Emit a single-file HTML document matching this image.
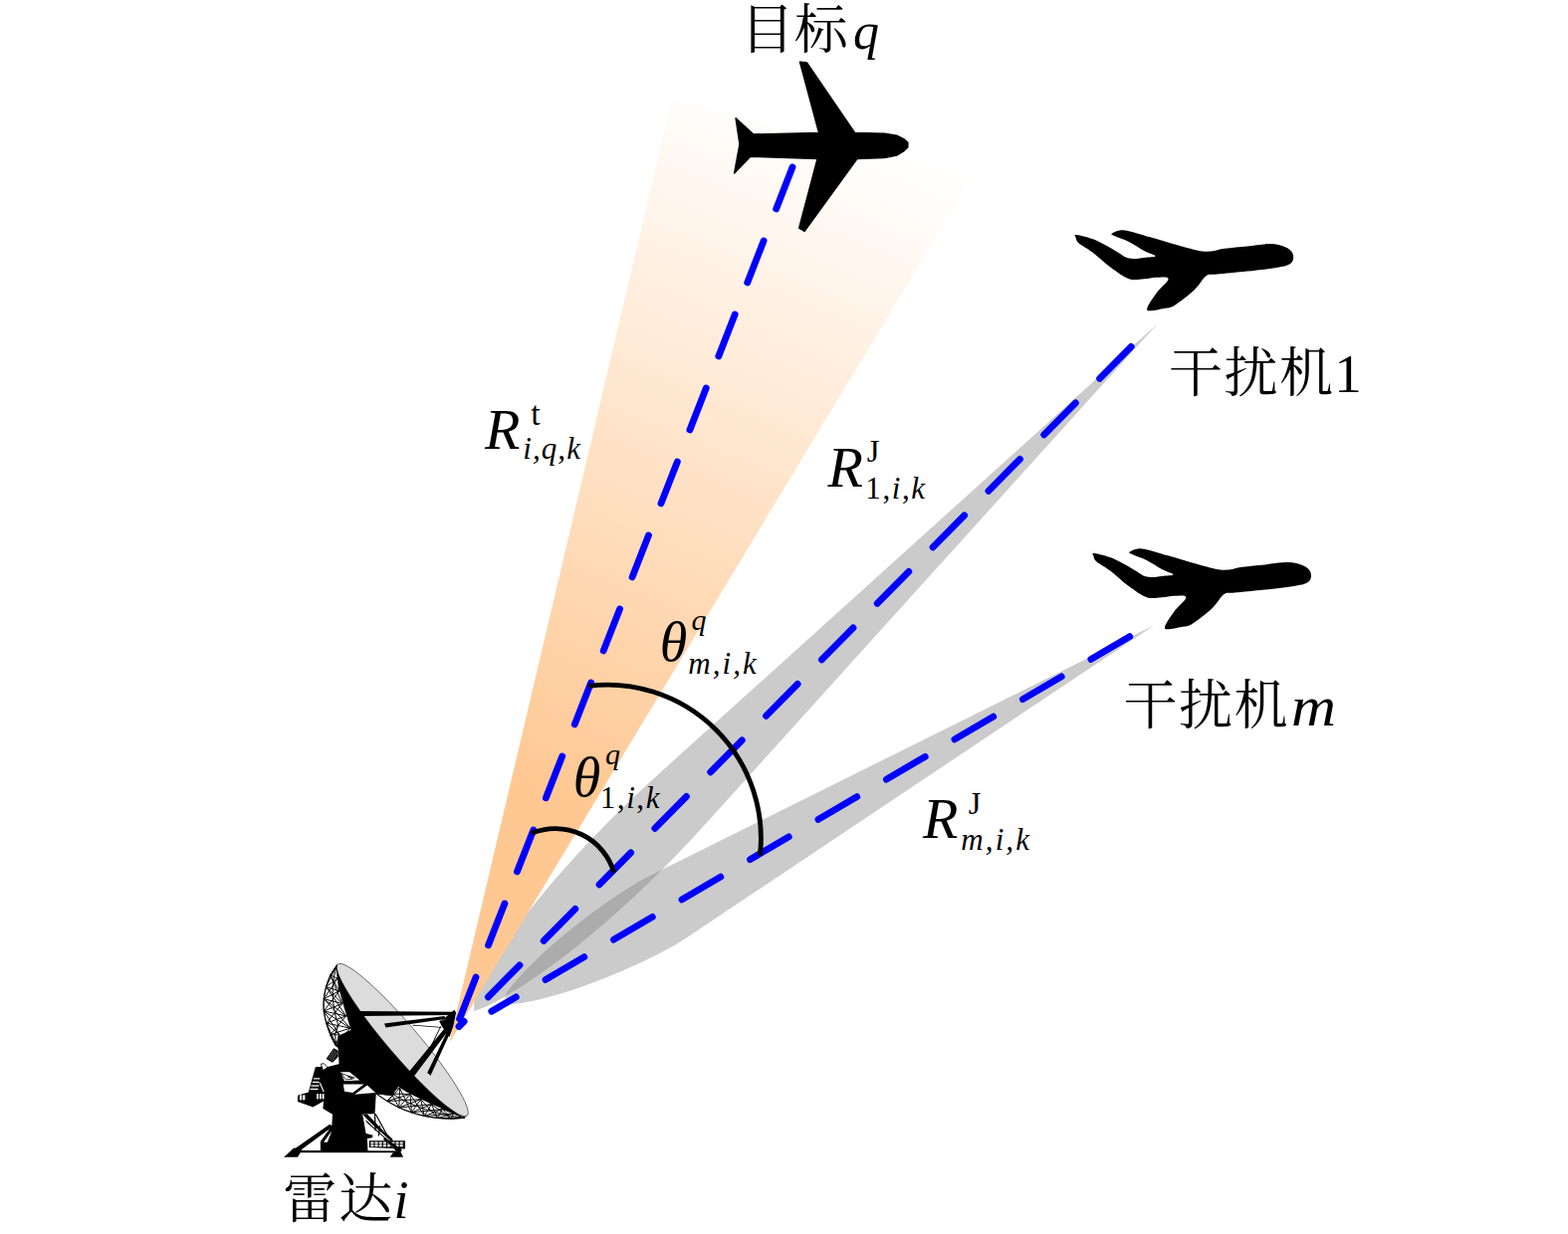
<!DOCTYPE html>
<html lang="zh"><head><meta charset="utf-8"><title>雷达干扰示意图</title>
<style>
html,body{margin:0;padding:0;background:#fff;}
body{width:1575px;height:1240px;overflow:hidden;font-family:"Liberation Serif","Noto Serif CJK SC",serif;}
svg{display:block;}
</style></head><body>
<svg width="1575" height="1240" viewBox="0 0 1575 1240">
<rect width="1575" height="1240" fill="#fff"/>
<defs>
<linearGradient id="og" gradientUnits="userSpaceOnUse" x1="450.5" y1="1048" x2="822" y2="141">
<stop offset="0" stop-color="#ffc791"/>
<stop offset="0.28" stop-color="#ffc893"/>
<stop offset="1" stop-color="#fffefd"/>
</linearGradient>
</defs>
<clipPath id="c1"><rect x="476.2" y="0" width="1100" height="1240"/></clipPath>
<clipPath id="cm"><rect x="508.2" y="0" width="1100" height="1240"/></clipPath>
<path d="M1163.0,325.0 L661.4,778.0 C533.5,893.4 474.0,991.5 471.1,1016.9 C496.5,1014.0 594.6,954.5 710.0,826.6 Z" fill="#838383" fill-opacity="0.415" clip-path="url(#c1)"/>
<path d="M1159.4,628.2 L652.7,880.1 C615.7,898.6 526.6,964.1 500.8,1009.9 C553.4,1010.4 654.6,965.7 689.0,942.7 Z" fill="#838383" fill-opacity="0.415" clip-path="url(#cm)"/>
<path d="M451.3,1048 L674.8,100 L977,177 Z" fill="url(#og)"/>
<path d="M796.0,168.0 L460,1028" stroke="#0000fe" stroke-width="6.8" stroke-linecap="round" stroke-dasharray="45 34.44" fill="none"/>
<path d="M1136.2,348.3 L461,1031.5" stroke="#0000fe" stroke-width="6.8" stroke-linecap="round" stroke-dasharray="45 34.44" fill="none"/>
<path d="M1134.7,639.6 L493.8,1016.3" stroke="#0000fe" stroke-width="6.8" stroke-linecap="round" stroke-dasharray="45 34.44" fill="none"/>
<path d="M534,837.3 A61.4,61.4 0 0 1 616.7,876.8" stroke="#000" stroke-width="4.8" fill="none"/>
<path d="M591.3,689.3 A154.3,154.3 0 0 1 763.4,859.6" stroke="#000" stroke-width="4.8" fill="none"/>
<path d="M911.8,143.4 L907.6,139.6 L900.7,136.2 L888.5,134.2 L858.6,133.5 L810.4,63.0 L803.5,62.3 L822.6,133.5 L756.8,135.0 L739.1,118.9 L743.0,145.0 L737.6,174.1 L753.7,157.2 L821.1,159.5 L802.7,229.2 L808.1,232.3 L860.9,159.5 L888.5,158.4 L900.7,156.0 L907.6,151.9 L911.8,148.0 Z" fill="#000" stroke="#000" stroke-width="1.5" stroke-linejoin="round"/>
<path d="M1081.4,236.0 C1084.7,236.4 1094.0,238.6 1100.5,241.3 C1107.0,244.0 1114.7,248.9 1120.3,252.0 C1125.9,255.1 1129.2,258.5 1134.0,259.6 C1138.8,260.8 1144.8,259.3 1149.2,258.9 C1153.7,258.5 1160.7,258.4 1160.7,257.3 C1160.7,256.2 1153.7,254.4 1149.2,252.0 C1144.8,249.6 1139.1,245.4 1134.0,242.9 C1128.9,240.4 1121.6,238.2 1118.8,236.8 C1116.0,235.4 1115.4,235.4 1117.2,234.5 C1119.0,233.6 1123.1,230.8 1129.4,231.4 C1135.8,232.0 1146.2,235.8 1155.3,238.3 C1164.4,240.9 1175.1,244.3 1184.3,246.7 C1193.5,249.1 1202.6,252.3 1210.2,252.8 C1217.8,253.3 1222.9,250.6 1230.0,249.7 C1237.1,248.8 1245.3,248.2 1252.9,247.4 C1260.5,246.6 1269.4,245.0 1275.7,245.1 C1282.0,245.2 1287.2,246.5 1291.0,248.2 C1294.8,249.8 1297.6,252.3 1298.6,255.0 C1299.6,257.7 1299.5,261.9 1297.0,264.2 C1294.5,266.5 1290.6,267.4 1283.3,268.8 C1276.0,270.2 1263.1,271.5 1252.9,272.6 C1242.8,273.7 1229.3,274.9 1222.4,275.6 C1215.5,276.4 1215.5,274.4 1211.7,277.1 C1207.9,279.8 1204.8,286.6 1199.5,291.6 C1194.2,296.6 1184.8,303.8 1179.7,306.9 C1174.6,309.9 1173.6,309.1 1169.0,309.9 C1164.4,310.6 1153.6,313.9 1152.3,311.4 C1151.0,308.9 1157.9,299.9 1161.4,294.7 C1165.0,289.5 1173.6,282.9 1173.6,280.2 C1173.6,277.5 1165.5,278.7 1161.4,278.7 C1157.3,278.7 1153.8,279.9 1149.2,280.2 C1144.6,280.4 1139.6,282.1 1134.0,280.2 C1128.4,278.3 1121.8,273.2 1115.7,268.8 C1109.6,264.4 1102.7,257.6 1097.4,253.5 C1092.1,249.4 1086.5,246.8 1083.7,244.4 C1080.9,242.0 1081.1,240.4 1080.7,239.0 C1080.3,237.6 1078.1,235.6 1081.4,236.0 Z" fill="#000"/>
<path d="M1081.4,236.0 C1084.7,236.4 1094.0,238.6 1100.5,241.3 C1107.0,244.0 1114.7,248.9 1120.3,252.0 C1125.9,255.1 1129.2,258.5 1134.0,259.6 C1138.8,260.8 1144.8,259.3 1149.2,258.9 C1153.7,258.5 1160.7,258.4 1160.7,257.3 C1160.7,256.2 1153.7,254.4 1149.2,252.0 C1144.8,249.6 1139.1,245.4 1134.0,242.9 C1128.9,240.4 1121.6,238.2 1118.8,236.8 C1116.0,235.4 1115.4,235.4 1117.2,234.5 C1119.0,233.6 1123.1,230.8 1129.4,231.4 C1135.8,232.0 1146.2,235.8 1155.3,238.3 C1164.4,240.9 1175.1,244.3 1184.3,246.7 C1193.5,249.1 1202.6,252.3 1210.2,252.8 C1217.8,253.3 1222.9,250.6 1230.0,249.7 C1237.1,248.8 1245.3,248.2 1252.9,247.4 C1260.5,246.6 1269.4,245.0 1275.7,245.1 C1282.0,245.2 1287.2,246.5 1291.0,248.2 C1294.8,249.8 1297.6,252.3 1298.6,255.0 C1299.6,257.7 1299.5,261.9 1297.0,264.2 C1294.5,266.5 1290.6,267.4 1283.3,268.8 C1276.0,270.2 1263.1,271.5 1252.9,272.6 C1242.8,273.7 1229.3,274.9 1222.4,275.6 C1215.5,276.4 1215.5,274.4 1211.7,277.1 C1207.9,279.8 1204.8,286.6 1199.5,291.6 C1194.2,296.6 1184.8,303.8 1179.7,306.9 C1174.6,309.9 1173.6,309.1 1169.0,309.9 C1164.4,310.6 1153.6,313.9 1152.3,311.4 C1151.0,308.9 1157.9,299.9 1161.4,294.7 C1165.0,289.5 1173.6,282.9 1173.6,280.2 C1173.6,277.5 1165.5,278.7 1161.4,278.7 C1157.3,278.7 1153.8,279.9 1149.2,280.2 C1144.6,280.4 1139.6,282.1 1134.0,280.2 C1128.4,278.3 1121.8,273.2 1115.7,268.8 C1109.6,264.4 1102.7,257.6 1097.4,253.5 C1092.1,249.4 1086.5,246.8 1083.7,244.4 C1080.9,242.0 1081.1,240.4 1080.7,239.0 C1080.3,237.6 1078.1,235.6 1081.4,236.0 Z" fill="#000" transform="translate(17.8 320)"/>
<g font-family="'Liberation Serif','Noto Serif CJK SC',serif" fill="#000">
<text><tspan x="743.7" y="49.4" font-size="54">目标</tspan><tspan x="856.9" y="48.9" font-size="52" font-style="italic">q</tspan></text>
<text><tspan x="1174" y="394.4" font-size="54" letter-spacing="1.5">干扰机</tspan><tspan x="1340.3" y="393.8" font-size="55">1</tspan></text>
<text><tspan x="1128.5" y="728.2" font-size="54" letter-spacing="1.5">干扰机</tspan><tspan x="1297" y="728.7" font-size="56" font-style="italic" textLength="45" lengthAdjust="spacingAndGlyphs">m</tspan></text>
<text><tspan x="284.2" y="1224.3" font-size="54" letter-spacing="2">雷达</tspan><tspan x="395.6" y="1223.7" font-size="54" font-style="italic">i</tspan></text>
<text><tspan x="487.1" y="451.1" font-size="58" font-style="italic">R</tspan><tspan x="533.2" y="427.0" font-size="34">t</tspan><tspan x="525.2" y="461.3" font-size="31" font-style="italic" letter-spacing="1.1">i,q,k</tspan></text>
<text><tspan x="831.6" y="489.1" font-size="58" font-style="italic">R</tspan><tspan x="870.8" y="464.4" font-size="32.5">J</tspan><tspan x="869.3" y="500.8" font-size="31" letter-spacing="1.6">1,<tspan font-style="italic">i</tspan>,<tspan font-style="italic">k</tspan></tspan></text>
<text><tspan x="927.1" y="842.2" font-size="58" font-style="italic">R</tspan><tspan x="972.8" y="818.0" font-size="32.5">J</tspan><tspan x="965.3" y="853.8" font-size="31" font-style="italic" letter-spacing="2.1">m,i,k</tspan></text>
<text><tspan x="662.7" y="664.4" font-size="56" font-style="italic">θ</tspan><tspan x="694.4" y="632.7" font-size="30" font-style="italic">q</tspan><tspan x="691.2" y="676.7" font-size="31" font-style="italic" letter-spacing="2.1">m,i,k</tspan></text>
<text><tspan x="575.8" y="800.4" font-size="56" font-style="italic">θ</tspan><tspan x="607.9" y="767.6" font-size="30" font-style="italic">q</tspan><tspan x="602.7" y="811.6" font-size="31" letter-spacing="1.6">1,<tspan font-style="italic">i</tspan>,<tspan font-style="italic">k</tspan></tspan></text>
</g>
<g id="radar" stroke-linejoin="round">
<path d="M338.5,969.7L338.5,970.2M338.5,969.7L339.1,983.1M338.5,970.2L331.8,980.0M338.5,969.7L331.8,980.0M338.5,970.0L335.4,981.6M338.5,969.7L340.8,995.9M338.5,970.2L327.5,991.6M331.8,980.0L339.1,983.1M331.8,980.0L340.8,995.9M339.1,983.1L327.5,991.6M331.8,980.0L327.5,991.6M335.4,981.6L334.2,993.8M331.8,980.0L343.8,1008.5M339.1,983.1L325.3,1003.7M327.5,991.6L340.8,995.9M327.5,991.6L343.8,1008.5M340.8,995.9L325.3,1003.7M327.5,991.6L325.3,1003.7M334.2,993.8L334.5,1006.1M327.5,991.6L347.6,1020.9M340.8,995.9L325.2,1016.0M325.3,1003.7L343.8,1008.5M325.3,1003.7L347.6,1020.9M343.8,1008.5L325.2,1016.0M325.3,1003.7L325.2,1016.0M334.5,1006.1L336.4,1018.4M325.3,1003.7L351.8,1033.1M343.8,1008.5L327.8,1028.1M325.2,1016.0L347.6,1020.9M325.2,1016.0L351.8,1033.1M347.6,1020.9L327.8,1028.1M325.2,1016.0L327.8,1028.1M336.4,1018.4L339.8,1030.6M325.2,1016.0L341.1,1039.9M347.6,1020.9L331.8,1039.7M327.8,1028.1L351.8,1033.1M327.8,1028.1L341.1,1039.9M351.8,1033.1L331.8,1039.7M327.8,1028.1L331.8,1039.7M339.8,1030.6L336.5,1039.8M327.8,1028.1L338.9,1051.9M351.8,1033.1L337.2,1050.8M331.8,1039.7L341.1,1039.9M331.8,1039.7L338.9,1051.9M341.1,1039.9L337.2,1050.8M331.8,1039.7L337.2,1050.8M336.5,1039.8L338.0,1051.3M337.2,1050.8L338.9,1051.9" stroke="#000" stroke-width="0.95" fill="none"/>
<path d="M338.5,969.7 C337.4,971.4 333.7,976.3 331.8,980.0 C329.9,983.7 328.5,988.0 327.4,992.0 C326.3,996.0 325.6,1000.0 325.2,1004.0 C324.8,1008.0 324.7,1011.8 325.2,1016.0 C325.7,1020.2 326.8,1024.8 328.0,1029.0 C329.2,1033.2 330.8,1037.4 332.3,1041.0 C333.8,1044.6 336.4,1049.2 337.2,1050.8" stroke="#000" stroke-width="0.9" fill="none"/>
<path d="M377.8,1098.9L394.3,1100.8M377.8,1098.9L401.6,1093.5M394.3,1100.8L389.0,1106.5M377.8,1098.9L389.0,1106.5M386.1,1099.8L395.3,1100.0M377.8,1098.9L412.0,1099.4M394.3,1100.8L400.8,1113.0M389.0,1106.5L401.6,1093.5M389.0,1106.5L412.0,1099.4M401.6,1093.5L400.8,1113.0M389.0,1106.5L400.8,1113.0M395.3,1100.0L406.4,1106.2M389.0,1106.5L422.6,1104.7M401.6,1093.5L413.4,1117.9M400.8,1113.0L412.0,1099.4M400.8,1113.0L422.6,1104.7M412.0,1099.4L413.4,1117.9M400.8,1113.0L413.4,1117.9M406.4,1106.2L418.0,1111.3M400.8,1113.0L433.4,1109.7M412.0,1099.4L426.4,1121.5M413.4,1117.9L422.6,1104.7M413.4,1117.9L433.4,1109.7M422.6,1104.7L426.4,1121.5M413.4,1117.9L426.4,1121.5M418.0,1111.3L429.9,1115.6M413.4,1117.9L444.4,1114.5M422.6,1104.7L439.7,1123.5M426.4,1121.5L433.4,1109.7M426.4,1121.5L444.4,1114.5M433.4,1109.7L439.7,1123.5M426.4,1121.5L439.7,1123.5M429.9,1115.6L442.1,1119.0M426.4,1121.5L455.5,1118.9M433.4,1109.7L453.2,1124.1M439.7,1123.5L444.4,1114.5M439.7,1123.5L455.5,1118.9M444.4,1114.5L453.2,1124.1M439.7,1123.5L453.2,1124.1M442.1,1119.0L454.3,1121.5M439.7,1123.5L466.7,1122.9M444.4,1114.5L466.7,1123.4M453.2,1124.1L455.5,1118.9M453.2,1124.1L466.7,1122.9M455.5,1118.9L466.7,1123.4M453.2,1124.1L466.7,1123.4M454.3,1121.5L466.7,1123.2M466.7,1123.4L466.7,1122.9" stroke="#000" stroke-width="0.95" fill="none"/>
<path d="M377.8,1098.9 C379.5,1100.1 384.1,1103.6 387.9,1105.9 C391.7,1108.2 396.4,1110.9 400.6,1112.9 C404.8,1114.9 409.1,1116.5 413.3,1117.9 C417.5,1119.3 421.8,1120.5 426.0,1121.4 C430.2,1122.3 434.5,1122.9 438.7,1123.4 C442.9,1123.9 446.7,1124.2 451.4,1124.2 C456.1,1124.2 464.1,1123.5 466.7,1123.4" stroke="#000" stroke-width="0.9" fill="none"/>
<path d="M339.2,968.9 L338.5,976.8 L339.9,990.9 L343.8,1006.2 L352.5,1035.0 L339.4,1041.0 L338.9,1053.0 L339.7,1053.8 L341.0,1076.7 L351.1,1081.7 L362.5,1086.8 L377.8,1098.3 L394.3,1100.8 L400.0,1091.9 L408.3,1097.2 L419.7,1103.1 L432.4,1109.0 L445.1,1114.5 L457.8,1119.6 L468.6,1122.4 L466,1117 L342,972 Z" fill="#000"/>
<ellipse cx="404.3" cy="1045.0" rx="100.0" ry="15.5" transform="rotate(49.54 404.3 1045.0)" fill="#dcdcdc" stroke="#222" stroke-width="0.6"/>
<path d="M359.0,1016.0 L456.4,1016.8 L456.4,1019.9 L362.3,1021.0 Z" fill="#000"/>
<path d="M386.0,1028.5 L446.6,1021.0 L447.4,1024.0 L387.5,1032.5 Z" fill="#000"/>
<path d="M414.5,1029.7 L443.4,1032.1 L443.4,1032.7 L414.5,1030.6 Z" fill="#000"/>
<path d="M409.6,1078.6 L448.3,1031.2 L451.5,1033.9 L415.1,1082.4 Z" fill="#000"/>
<path d="M429.2,1078.0 L449.9,1035.0 L452.8,1036.4 L432.5,1080.7 Z" fill="#000"/>
<path d="M432.8,1050.8 L442.3,1031.2 L443.0,1031.5 L433.7,1051.2 Z" fill="#000"/>
<path d="M456.4,1014.7 L458.1,1017.6 L455.3,1031.2 L451.5,1042.1 L448.3,1037.7 L443.9,1031.2 L441.2,1026.3 L447.2,1022.5 L451.5,1018.7 Z" fill="#000"/>
<path d="M443.0,1026.0 L448.8,1023.0 L445.0,1025.5 Z" fill="#fff"/>
<path d="M341.0,1069.0 L368.9,1088.1 L377.8,1098.3 L376.5,1119.2 L364.1,1119.6 L367.6,1138.9 L374.6,1140.8 L374.0,1143.3 L368.9,1144.0 L369.5,1157.3 L321.9,1157.3 L321.9,1147.1 L333.3,1131.3 L334.0,1119.8 L324.4,1114.1 L325.7,1098.3 L327.0,1088.1 L323.8,1075.4 L328.3,1072.2 Z" fill="#000"/>
<path d="M342.2,1077.3 L351.1,1077.3 L361.3,1085.6 L346.0,1086.2 Z" fill="#fff"/>
<path d="M344.8,1089.6 L365.7,1089.6 L354.3,1098.0 L346.0,1096.7 Z" fill="#fff"/>
<path d="M368.9,1090.6 L377.1,1098.0 L356.2,1099.8 Z" fill="#fff"/>
<path d="M342.9,1078.6 L347.3,1084.9 L354.3,1084.3 L349.2,1081.7 L356.2,1083.3 Z" fill="none" stroke="#000" stroke-width="0.8"/>
<path d="M327.6,1064.0 L335.2,1053.2 L339.7,1055.7 L339.7,1062.1 L334.0,1067.8 Z" fill="#000"/>
<path d="M329.8,1063.7 L335.9,1055.1 Z M331.4,1065.0 L337.4,1056.3 Z M333.1,1066.3 L338.7,1057.9 Z" stroke="#888" stroke-width="0.5" fill="none"/>
<path d="M322.5,1069.0 L325.7,1068.8 L328.9,1072.6 L323.8,1076.0 Z" fill="#fff" stroke="#000" stroke-width="0.8"/>
<path d="M316.8,1072.2 L323.8,1071.8 L328.3,1088.1 L326.0,1098.0 L326.0,1105.9 L314.3,1112.5 L299.0,1107.1 L299.0,1100.8 L309.8,1097.6 Z" fill="#000"/>
<path d="M314.9,1083.3 L321.3,1083.3 L321.3,1084.5 L314.9,1084.5 Z" fill="#fff"/>
<path d="M313.7,1086.8 L320.6,1086.8 L320.6,1088.1 L313.7,1088.1 Z" fill="#fff"/>
<path d="M312.4,1090.4 L320.4,1090.4 L320.4,1091.7 L312.4,1091.7 Z" fill="#fff"/>
<path d="M311.5,1093.8 L319.6,1093.8 L319.6,1095.1 L311.5,1095.1 Z" fill="#fff"/>
<path d="M321.3,1088.1 L325.1,1097.0 Z" stroke="#fff" stroke-width="0.8"/>
<path d="M301.0,1100.5 L303.2,1100.2 L303.2,1105.2 L301.0,1105.4 Z" fill="#fff"/>
<path d="M304.1,1100.5 L306.4,1100.2 L306.4,1105.2 L304.1,1105.4 Z" fill="#fff"/>
<path d="M318.1,1099.3 L319.9,1099.1 L319.9,1104.3 L318.1,1104.5 Z" fill="#fff"/>
<path d="M320.9,1099.3 L322.7,1099.1 L322.7,1104.3 L320.9,1104.5 Z" fill="#fff"/>
<path d="M323.7,1099.3 L325.5,1099.1 L325.5,1104.3 L323.7,1104.5 Z" fill="#fff"/>
<path d="M331.2,1129.7 L334.3,1132.0 L301.0,1156.4 L296.5,1153.9 Z" fill="#000"/>
<path d="M333.3,1136.3 L328.9,1147.8 L325.1,1147.8 Z" fill="#fff"/>
<path d="M285.1,1162.8 L295.2,1153.5 L303.5,1155.1 L299.0,1162.8 Z" fill="#000"/>
<path d="M299.0,1156.0 L401.9,1156.4 L405.1,1162.8 L391.7,1162.8 L394.9,1158.2 L299.0,1158.2 Z" fill="#000"/>
<path d="M364.1,1119.6 L368.9,1119.6 L403.8,1155.7 L398.1,1156.9 Z" fill="#000"/>
<path d="M367.6,1124.3 L398.1,1151.6 L395.6,1152.2 L367.6,1128.7 Z" fill="#fff"/>
<path d="M368.9,1127.5 L394.3,1150.3 Z M376.5,1119.2 L377.1,1136.3 Z M377.1,1119.2 L387.9,1138.9 Z M381.6,1131.3 L380.3,1141.4 Z M387.9,1138.9 L394.3,1145.2 Z M367.6,1126.2 L377.1,1135.1 Z" stroke="#000" stroke-width="0.9" fill="none"/>
<path d="M370.8,1146.3 L407.0,1146.3 L407.0,1154.4 L370.8,1153.1 Z" fill="#000"/>
<path d="M372.3,1147.5 L375.4,1147.5 L375.4,1149.6 L372.3,1149.6 Z M372.3,1150.3 L375.4,1150.3 L375.4,1152.3 L372.3,1152.3 Z" fill="#fff"/>
<path d="M376.5,1147.5 L379.6,1147.5 L379.6,1149.6 L376.5,1149.6 Z M376.5,1150.3 L379.6,1150.3 L379.6,1152.3 L376.5,1152.3 Z" fill="#fff"/>
<path d="M380.7,1147.5 L383.7,1147.5 L383.7,1149.6 L380.7,1149.6 Z M380.7,1150.3 L383.7,1150.3 L383.7,1152.3 L380.7,1152.3 Z" fill="#fff"/>
<path d="M384.9,1147.5 L387.9,1147.5 L387.9,1149.6 L384.9,1149.6 Z M384.9,1150.3 L387.9,1150.3 L387.9,1152.3 L384.9,1152.3 Z" fill="#fff"/>
<path d="M389.1,1147.5 L392.1,1147.5 L392.1,1149.6 L389.1,1149.6 Z M389.1,1150.3 L392.1,1150.3 L392.1,1152.3 L389.1,1152.3 Z" fill="#fff"/>
<path d="M393.3,1147.5 L396.3,1147.5 L396.3,1149.6 L393.3,1149.6 Z M393.3,1150.3 L396.3,1150.3 L396.3,1152.3 L393.3,1152.3 Z" fill="#fff"/>
<path d="M397.5,1147.5 L400.5,1147.5 L400.5,1149.6 L397.5,1149.6 Z M397.5,1150.3 L400.5,1150.3 L400.5,1152.3 L397.5,1152.3 Z" fill="#fff"/>
<path d="M401.7,1147.5 L404.7,1147.5 L404.7,1149.6 L401.7,1149.6 Z M401.7,1150.3 L404.7,1150.3 L404.7,1152.3 L401.7,1152.3 Z" fill="#fff"/>
<path d="M368.9,1127.5 L402.5,1156.4 L397.5,1156.9 L367.6,1131.3 Z" fill="#000" opacity="0"/>
<path d="M386.7,1144.6 L401.9,1156.0 Z" stroke="#000" stroke-width="3"/>
</g>
</svg>
</body></html>
